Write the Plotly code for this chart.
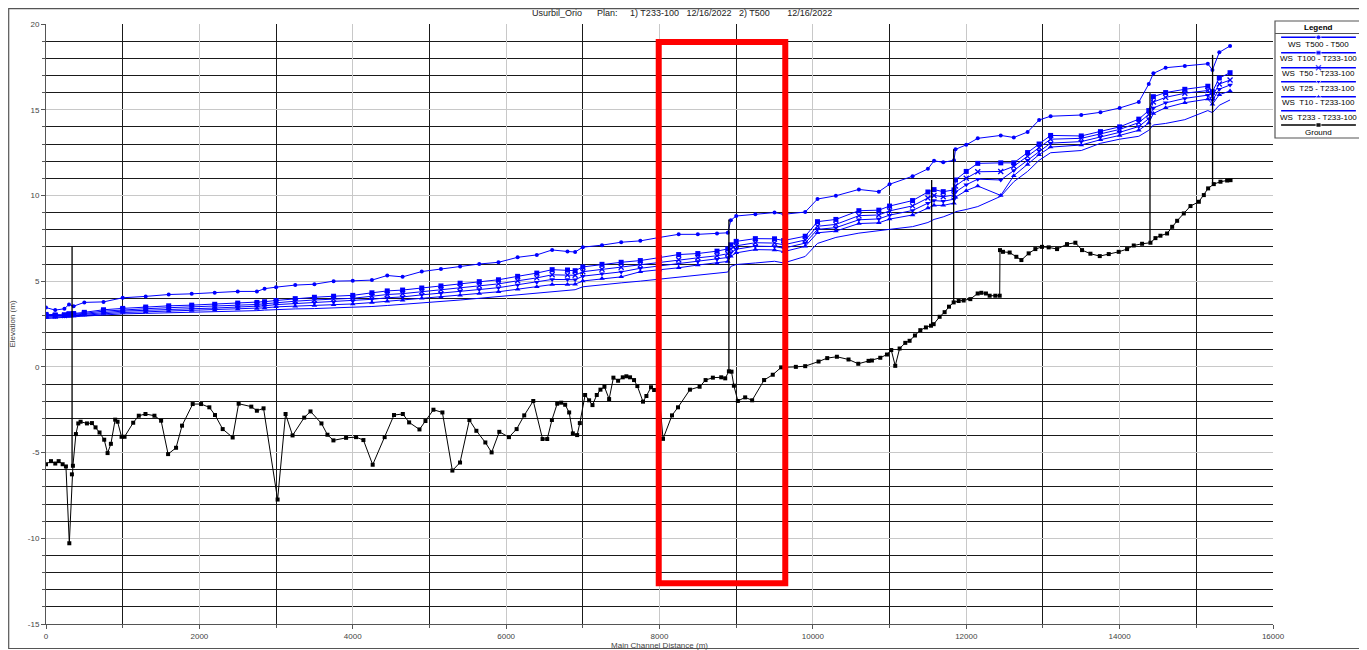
import plotly.graph_objects as go

# ---------------- data ----------------
ws_x = [0, 120, 240, 300, 360, 500, 750, 1000, 1300, 1600, 1900, 2200, 2500, 2750, 2850, 3000,
        3250, 3500, 3750, 4000, 4250, 4450, 4650, 4900, 5150, 5400, 5650, 5900, 6150, 6400,
        6600, 6800, 6900, 7000, 7250, 7500, 7750, 8000, 8250, 8500, 8750, 8890, 8930, 9000,
        9250, 9500, 9620, 9900, 10060, 10300, 10600, 10860, 11000, 11300, 11500, 11580, 11700,
        11840, 11860, 12000, 12150, 12450, 12620, 12800, 12950, 13100, 13500, 13750, 14000,
        14250, 14380, 14440, 14600, 14850, 15150, 15210, 15300, 15440]

ws_t500 = [3.46, 3.31, 3.39, 3.64, 3.54, 3.76, 3.79, 4.03, 4.11, 4.22, 4.26, 4.32, 4.40, 4.40, 4.56, 4.65,
           4.77, 4.82, 5.00, 5.02, 5.06, 5.33, 5.25, 5.56, 5.71, 5.86, 6.00, 6.10, 6.39, 6.53,
           6.82, 6.73, 6.70, 6.98, 7.10, 7.27, 7.35, 7.55, 7.73, 7.73, 7.78, 7.82, 8.55, 8.80,
           8.90, 9.00, 8.90, 9.03, 9.79, 9.98, 10.35, 10.22, 10.65, 11.12, 11.55, 12.02, 11.93,
           12.05, 12.69, 12.95, 13.33, 13.50, 13.38, 13.70, 14.40, 14.62, 14.69, 14.85, 15.10,
           15.45, 16.50, 17.12, 17.45, 17.55, 17.68, 17.32, 18.35, 18.72]

ws_t100 = [3.06, 3.03, 3.04, 3.10, 3.11, 3.18, 3.33, 3.41, 3.49, 3.56, 3.60, 3.65, 3.72, 3.76, 3.80, 3.87,
           3.98, 4.06, 4.12, 4.17, 4.32, 4.43, 4.48, 4.60, 4.72, 4.88, 4.97, 5.08, 5.28, 5.47,
           5.67, 5.65, 5.61, 5.83, 5.98, 6.10, 6.20, 6.37, 6.55, 6.61, 6.75, 6.88, 7.12, 7.32,
           7.48, 7.47, 7.37, 7.62, 8.47, 8.60, 9.11, 9.14, 9.38, 9.70, 10.20, 10.34, 10.22,
           10.32, 10.90, 11.40, 11.87, 11.90, 11.90, 12.50, 13.00, 13.50, 13.47, 13.72, 14.00,
           14.45, 14.95, 15.76, 16.00, 16.19, 16.37, 16.05, 16.85, 17.16]

ws_t50 = [3.00, 2.98, 3.00, 3.05, 3.06, 3.12, 3.25, 3.33, 3.39, 3.45, 3.49, 3.53, 3.60, 3.64, 3.68, 3.75,
          3.83, 3.90, 3.95, 4.00, 4.12, 4.22, 4.27, 4.39, 4.50, 4.64, 4.73, 4.84, 5.02, 5.19,
          5.37, 5.36, 5.34, 5.55, 5.69, 5.81, 5.95, 6.10, 6.25, 6.36, 6.48, 6.60, 6.87, 7.06,
          7.24, 7.22, 7.12, 7.40, 8.20, 8.31, 8.82, 8.86, 9.10, 9.39, 9.85, 10.00, 9.92,
          10.03, 10.55, 11.00, 11.38, 11.40, 11.70, 12.28, 12.80, 13.28, 13.33, 13.58, 13.85,
          14.25, 14.72, 15.45, 15.72, 15.96, 16.12, 15.80, 16.50, 16.73]

ws_t25 = [2.95, 2.94, 2.96, 3.00, 3.02, 3.07, 3.18, 3.25, 3.30, 3.36, 3.39, 3.43, 3.48, 3.52, 3.56, 3.63,
          3.69, 3.74, 3.79, 3.84, 3.94, 4.03, 4.08, 4.20, 4.29, 4.42, 4.51, 4.62, 4.78, 4.94,
          5.10, 5.09, 5.08, 5.29, 5.43, 5.54, 5.75, 5.88, 6.02, 6.14, 6.27, 6.38, 6.66, 6.86,
          7.04, 7.02, 6.92, 7.22, 8.02, 8.12, 8.58, 8.63, 8.85, 9.12, 9.55, 9.70, 9.66,
          9.78, 10.20, 10.62, 10.95, 10.90, 11.45, 12.05, 12.60, 13.05, 13.14, 13.42, 13.68,
          14.02, 14.48, 15.10, 15.40, 15.66, 15.85, 15.55, 16.20, 16.44]

ws_t10 = [2.89, 2.89, 2.92, 2.95, 2.97, 3.02, 3.11, 3.17, 3.21, 3.26, 3.29, 3.32, 3.37, 3.41, 3.44, 3.50,
          3.54, 3.58, 3.62, 3.67, 3.75, 3.83, 3.88, 4.00, 4.07, 4.18, 4.28, 4.38, 4.53, 4.67,
          4.80, 4.81, 4.82, 5.01, 5.15, 5.25, 5.55, 5.65, 5.78, 5.94, 6.05, 6.15, 6.45, 6.65,
          6.84, 6.82, 6.72, 7.03, 7.82, 7.92, 8.36, 8.40, 8.62, 8.86, 9.26, 9.42, 9.42,
          9.55, 9.90, 10.28, 10.55, 10.00, 11.15, 11.80, 12.38, 12.82, 12.94, 13.25, 13.50,
          13.80, 14.22, 14.78, 15.12, 15.41, 15.62, 15.32, 15.88, 16.09]

ws_t233 = [2.82, 2.84, 2.88, 2.90, 2.92, 2.96, 3.03, 3.09, 3.12, 3.15, 3.17, 3.20, 3.24, 3.28, 3.31, 3.35,
           3.38, 3.40, 3.43, 3.47, 3.52, 3.58, 3.64, 3.75, 3.82, 3.90, 4.00, 4.10, 4.22, 4.34,
           4.42, 4.46, 4.50, 4.67, 4.80, 4.90, 5.00, 5.12, 5.20, 5.33, 5.45, 5.53, 5.86, 5.97,
           6.06, 6.16, 6.06, 6.44, 7.20, 7.55, 7.80, 7.92, 8.02, 8.18, 8.42, 8.60, 8.75,
           8.99, 9.05, 9.18, 9.35, 9.95, 10.80, 11.40, 12.05, 12.49, 12.62, 13.04, 13.28,
           13.45, 13.80, 14.11, 14.20, 14.42, 14.95, 14.83, 15.26, 15.57]

ground_x = [0, 65, 121, 165, 217, 260, 304, 338, 351, 390, 421, 451, 534, 599, 646, 698, 759, 803, 846,
            902, 933, 985, 1024, 1137, 1210, 1297, 1414, 1501, 1592, 1696, 1774, 1913, 2022, 2130,
            2204, 2304, 2434, 2512, 2677, 2750, 2837, 3020, 3124, 3215, 3367, 3449, 3592, 3670,
            3748, 3913, 4043, 4139, 4260, 4416, 4538, 4653, 4735, 4870, 4948, 5052, 5169, 5299,
            5399, 5521, 5612, 5729, 5811, 5911, 6037, 6137, 6236, 6354, 6475, 6536, 6597, 6666,
            6718, 6770, 6822, 6870, 6926, 6961, 7030, 7082, 7126, 7182, 7230, 7282, 7343, 7399,
            7460, 7521, 7568, 7616, 7668, 7711, 7785, 7829, 7889, 7930, 7990, 8046, 8163, 8241,
            8397, 8523, 8601, 8696, 8805, 8857, 8905, 8939, 8970, 9022, 9117, 9208, 9364, 9477,
            9586, 9778, 9900, 10074, 10187, 10313, 10465, 10592, 10726, 10770, 10879, 10966,
            11022, 11074, 11131, 11205, 11261, 11331, 11401, 11474, 11540, 11575, 11653, 11718,
            11775, 11836, 11901, 11966, 12053, 12149, 12197, 12257, 12305, 12379, 12436, 12440,
            12479, 12566, 12653, 12719, 12814, 12901, 12988, 13075, 13184, 13314, 13423, 13510,
            13619, 13741, 13858, 13988, 14097, 14184, 14293, 14402, 14467, 14532, 14619, 14685,
            14750, 14837, 14924, 15033, 15098, 15154, 15228, 15315, 15402, 15446]

ground_y = [-5.68, -5.50, -5.64, -5.50, -5.68, -5.81, -10.29, -6.27, -5.77, -3.92, -3.30, -3.20, -3.30,
            -3.28, -3.53, -3.83, -4.25, -5.03, -4.49, -3.08, -3.20, -4.08, -4.08, -3.26, -2.85,
            -2.75, -2.85, -3.14, -5.09, -4.72, -3.43, -2.17, -2.17, -2.36, -2.81, -3.63, -4.12,
            -2.15, -2.32, -2.56, -2.42, -7.74, -2.75, -4.00, -2.96, -2.60, -3.30, -3.96, -4.29,
            -4.14, -4.10, -4.27, -5.71, -4.10, -2.81, -2.75, -3.24, -3.65, -3.16, -2.50, -2.66,
            -6.05, -5.58, -3.10, -3.73, -4.41, -4.99, -3.79, -4.10, -3.63, -2.83, -1.99, -4.21,
            -4.21, -3.10, -2.15, -2.09, -2.21, -2.66, -3.88, -3.98, -3.28, -1.64, -1.95, -2.23,
            -1.64, -1.33, -1.16, -1.88, -0.63, -0.81, -0.61, -0.55, -0.61, -0.77, -1.12, -2.03,
            -1.70, -1.19, -1.35, -1.30, -4.20, -2.83, -2.36, -1.33, -1.16, -0.77, -0.63, -0.61,
            -0.67, -0.26, -0.28, -1.10, -1.99, -1.78, -1.95, -0.77, -0.46, -0.03, 0.00, 0.04,
            0.31, 0.51, 0.59, 0.43, 0.18, 0.35, 0.37, 0.53, 0.72, 0.98, 0.06, 1.07, 1.40, 1.52,
            1.83, 2.14, 2.30, 2.40, 2.49, 2.92, 3.19, 3.51, 3.76, 3.84, 3.87, 3.95, 4.28, 4.32,
            4.28, 4.15, 4.15, 4.15, 6.81, 6.71, 6.67, 6.42, 6.23, 6.62, 6.87, 7.00, 6.97, 6.87,
            7.16, 7.24, 6.81, 6.60, 6.46, 6.58, 6.71, 6.87, 7.08, 7.18, 7.24, 7.51, 7.65, 7.78,
            8.17, 8.52, 8.95, 9.38, 9.63, 10.02, 10.41, 10.66, 10.80, 10.87, 10.89]

# structures drawn as vertical lines (station, bottom, top)
struct_x = [340, 8905, 11549, 11836, 14396, 15212]
struct_bottom = [-5.77, -0.26, 2.40, 3.76, 7.24, 10.60]
struct_top = [7.00, 8.60, 10.90, 12.70, 15.96, 18.20]

# highlighted region (red box)
box_x = [7990, 9640]
box_y = [-12.62, 18.95]

x_ticks = [0, 2000, 4000, 6000, 8000, 10000, 12000, 14000, 16000]
y_ticks = [-15, -10, -5, 0, 5, 10, 15, 20]

title_text = "Usurbil_Orio" + "\u00a0" * 6 + "Plan:" + "\u00a0" * 5 + "1) T233-100" + "\u00a0" * 3 + \
             "12/16/2022" + "\u00a0" * 3 + "2) T500" + "\u00a0" * 7 + "12/16/2022"

series = [
    ("WS  T500 - T500", ws_t500, "circle", 4),
    ("WS  T100 - T233-100", ws_t100, "square", 5),
    ("WS  T50 - T233-100", ws_t50, "x-thin-open", 5),
    ("WS  T25 - T233-100", ws_t25, "triangle-down", 5),
    ("WS  T10 - T233-100", ws_t10, "triangle-up", 5),
    ("WS  T233 - T233-100", ws_t233, None, 0),
]

BLUE = "#0000ff"
FONT = "Arial, Liberation Sans, sans-serif"

# ---------------- figure geometry ----------------
# the page body has an 8px margin, so the figure starts at screen (8, 8)
OFF = 8
W, H = 1367 - OFF, 650 - OFF
ML, MR, MT, MB = 46 - OFF, 2, 10, 26
PW = W - ML - MR
PH = H - MT - MB
plot_right_px = 1273   # screen px
plot_top_px = 24       # screen px


def px_x(p):
    # screen px -> paper x
    return (p - OFF - ML) / PW


def px_y(p):
    # screen px -> paper y
    return (H - MB - (p - OFF)) / PH


fig = go.Figure()

for name, vals, sym, size in series:
    if sym is None:
        fig.add_trace(go.Scatter(x=ws_x, y=vals, mode="lines", name=name,
                                 line=dict(color=BLUE, width=1), showlegend=False))
    else:
        mk = dict(symbol=sym, size=size, color=BLUE)
        if sym == "x-thin-open":
            mk["line"] = dict(color=BLUE, width=1.3)
        fig.add_trace(go.Scatter(x=ws_x, y=vals, mode="lines+markers", name=name,
                                 line=dict(color=BLUE, width=1), marker=mk, showlegend=False))

# structures
sx, sy = [], []
for x0, b, t in zip(struct_x, struct_bottom, struct_top):
    sx += [x0, x0, None]
    sy += [b, t, None]
fig.add_trace(go.Scatter(x=sx, y=sy, mode="lines", line=dict(color="black", width=1.3),
                         showlegend=False, hoverinfo="skip"))

fig.add_trace(go.Scatter(x=ground_x, y=ground_y, mode="lines+markers", name="Ground",
                         line=dict(color="black", width=1),
                         marker=dict(symbol="square", size=4, color="black"), showlegend=False))

# red highlight box
fig.add_shape(type="rect", xref="x", yref="y", x0=box_x[0], x1=box_x[1], y0=box_y[0], y1=box_y[1],
              line=dict(color="#ff0000", width=6), fillcolor="rgba(0,0,0,0)")

# ---------------- custom legend (on its own small axes) ----------------
leg_left, leg_right = px_x(1275), px_x(1362)
leg_top, leg_bot = px_y(21), px_y(138)
fig.add_shape(type="rect", xref="paper", yref="paper", x0=leg_left, x1=leg_right, y0=leg_bot, y1=leg_top,
              line=dict(color="#555555", width=1.2), fillcolor="white", layer="below")
fig.add_shape(type="line", xref="paper", yref="paper", x0=leg_left, x1=leg_right,
              y0=px_y(33.5), y1=px_y(33.5), line=dict(color="#555555", width=1))
fig.add_annotation(text="<b>Legend</b>", xref="paper", yref="paper", x=(leg_left + leg_right) / 2,
                   y=px_y(28), showarrow=False, font=dict(family=FONT, size=8, color="black"),
                   xanchor="center", yanchor="middle")

leg_names = [s[0] for s in series] + ["Ground"]
leg_syms = [s[2] for s in series] + ["square"]
leg_cols = [BLUE] * 6 + ["black"]
line_py = [37.3, 52.7, 67.7, 81.7, 96.7, 110.7, 125.0]
text_py = [44.7, 59.0, 73.3, 88.3, 102.7, 117.7, 132.3]
for i, (nm, sym, col) in enumerate(zip(leg_names, leg_syms, leg_cols)):
    yl = 1 - (line_py[i] - 21) / (138 - 21)
    mk = dict(size=[0, 5, 0], color=col, symbol=sym if sym else "circle")
    if sym is None:
        mk["size"] = [0, 0, 0]
    if sym == "x-thin-open":
        mk["line"] = dict(color=col, width=1.3)
    fig.add_trace(go.Scatter(x=[0.06, 0.5, 0.94], y=[yl, yl, yl], mode="lines+markers",
                             xaxis="x2", yaxis="y2", line=dict(color=col, width=1.5),
                             marker=mk, showlegend=False, hoverinfo="skip"))
    fig.add_annotation(text=nm.replace("  ", "\u00a0\u00a0"), xref="paper", yref="paper",
                       x=(leg_left + leg_right) / 2, y=px_y(text_py[i]), showarrow=False,
                       font=dict(family=FONT, size=8, color="black"), xanchor="center", yanchor="middle")

# title
fig.add_annotation(text=title_text, xref="paper", yref="paper", x=px_x(682), y=px_y(13),
                   showarrow=False, font=dict(family=FONT, size=9, color="#222222"),
                   xanchor="center", yanchor="middle")

# outer frame (as close to the page edge as the figure allows)
fig.add_shape(type="rect", xref="paper", yref="paper", x0=px_x(8.7), x1=px_x(1365), y0=px_y(648.5),
              y1=px_y(8.7), line=dict(color="#555555", width=1.2), fillcolor="rgba(0,0,0,0)")

axis_font = dict(family=FONT, size=8, color="#444444")
fig.update_layout(
    width=W, height=H, autosize=False,
    margin=dict(l=ML, r=MR, t=MT, b=MB),
    paper_bgcolor="white", plot_bgcolor="white",
    showlegend=False,
    xaxis=dict(domain=[0, px_x(plot_right_px)], range=[0, 16000], tickmode="array", tickvals=x_ticks,
               ticktext=[str(v) for v in x_ticks], ticks="outside", ticklen=4, tickcolor="#555555",
               showgrid=True, gridcolor="#c8c8c8", gridwidth=1, zeroline=False, automargin=False,
               showline=True, linecolor="#555555", linewidth=1,
               minor=dict(dtick=1000, tick0=0, showgrid=True, gridcolor="#1a1a1a", gridwidth=1,
                          ticks="outside", ticklen=3, tickcolor="#555555"),
               tickfont=axis_font,
               title=dict(text="Main Channel Distance (m)", font=axis_font, standoff=2)),
    yaxis=dict(domain=[0, px_y(plot_top_px)], range=[-15, 20], tickmode="array", tickvals=y_ticks,
               ticktext=[str(v) for v in y_ticks], ticks="outside", ticklen=4, tickcolor="#555555",
               showgrid=True, gridcolor="#c8c8c8", gridwidth=1, zeroline=False, automargin=False,
               showline=True, linecolor="#555555", linewidth=1,
               minor=dict(dtick=1, tick0=0, showgrid=True, gridcolor="#1a1a1a", gridwidth=1,
                          ticks="outside", ticklen=3, tickcolor="#555555"),
               tickfont=axis_font,
               title=dict(text="Elevation (m)", font=axis_font, standoff=18)),
    xaxis2=dict(domain=[px_x(1276), px_x(1361)], range=[0, 1], visible=False, anchor="y2"),
    yaxis2=dict(domain=[px_y(138), px_y(21)], range=[0, 1], visible=False, anchor="x2"),
)

fig.write_html("out.html")
